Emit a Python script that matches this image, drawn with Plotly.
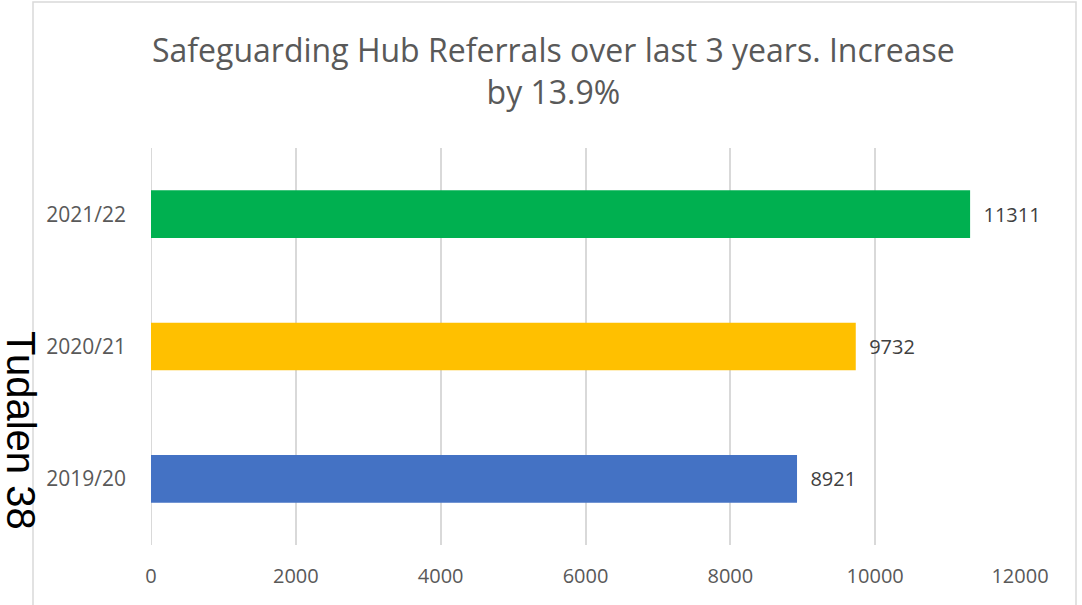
import plotly.graph_objects as go

categories = ["2019/20", "2020/21", "2021/22"]
values = [8921, 9732, 11311]
colors = ["#4472C4", "#FFC000", "#00B050"]
x_ticks = [0, 2000, 4000, 6000, 8000, 10000, 12000]
x_tick_labels = ["0", "2000", "4000", "6000", "8000", "10000", "12000"]

W, H = 1082, 605
L, R, T, B = 151, 62, 148, 60
dw, dh = W - L - R, H - T - B

def px(xp):
    return (xp - L) / dw

def py(yp):
    return (H - B - yp) / dh

fig = go.Figure(go.Bar(
    y=categories, x=values, orientation="h",
    marker=dict(color=colors, line=dict(width=0)),
    width=0.36,
    text=["\u00a0\u00a0" + str(v) for v in values], textposition="outside",
    textfont=dict(family="Open Sans", size=20, color="#404040"),
    cliponaxis=False,
))

fig.update_layout(
    width=W, height=H,
    margin=dict(l=L, r=R, t=T, b=B),
    paper_bgcolor="white", plot_bgcolor="white",
    showlegend=False,
    xaxis=dict(range=[0, 12000], tickvals=x_ticks, ticktext=x_tick_labels,
               showgrid=True, gridcolor="#D9D9D9", gridwidth=2, zeroline=False,
               showline=False, ticks="", ticklabelstandoff=17,
               tickfont=dict(family="Open Sans", size=20, color="#595959")),
    yaxis=dict(categoryorder="array", categoryarray=categories,
               range=[-0.5, 2.5], showgrid=False, zeroline=False,
               showline=False, ticks="", ticklabelstandoff=24,
               tickfont=dict(family="Open Sans", size=21, color="#595959")),
    shapes=[
        dict(type="rect", xref="paper", yref="paper",
             x0=px(33), x1=px(1076), y0=py(625), y1=py(2),
             line=dict(color="#D9D9D9", width=1.5), fillcolor="rgba(0,0,0,0)",
             layer="below"),
        dict(type="line", xref="x", yref="paper", x0=0, x1=0, y0=0, y1=1,
             line=dict(color="#D9D9D9", width=2), layer="below"),
    ],
    annotations=[
        dict(text="Safeguarding Hub Referrals over last 3 years. Increase<br>by 13.9%",
             xref="paper", yref="paper", x=px(553), y=py(70),
             xanchor="center", yanchor="middle", showarrow=False,
             font=dict(family="Open Sans", size=32, color="#595959")),
        dict(text="Tudalen 38", textangle=90,
             xref="paper", yref="paper", x=px(21), y=py(430),
             xanchor="center", yanchor="middle", showarrow=False,
             font=dict(family="Liberation Sans", size=40, color="black")),
    ],
)

fig.write_html("out.html", config={"displayModeBar": False},
               post_script="document.body.style.margin='0px';")
